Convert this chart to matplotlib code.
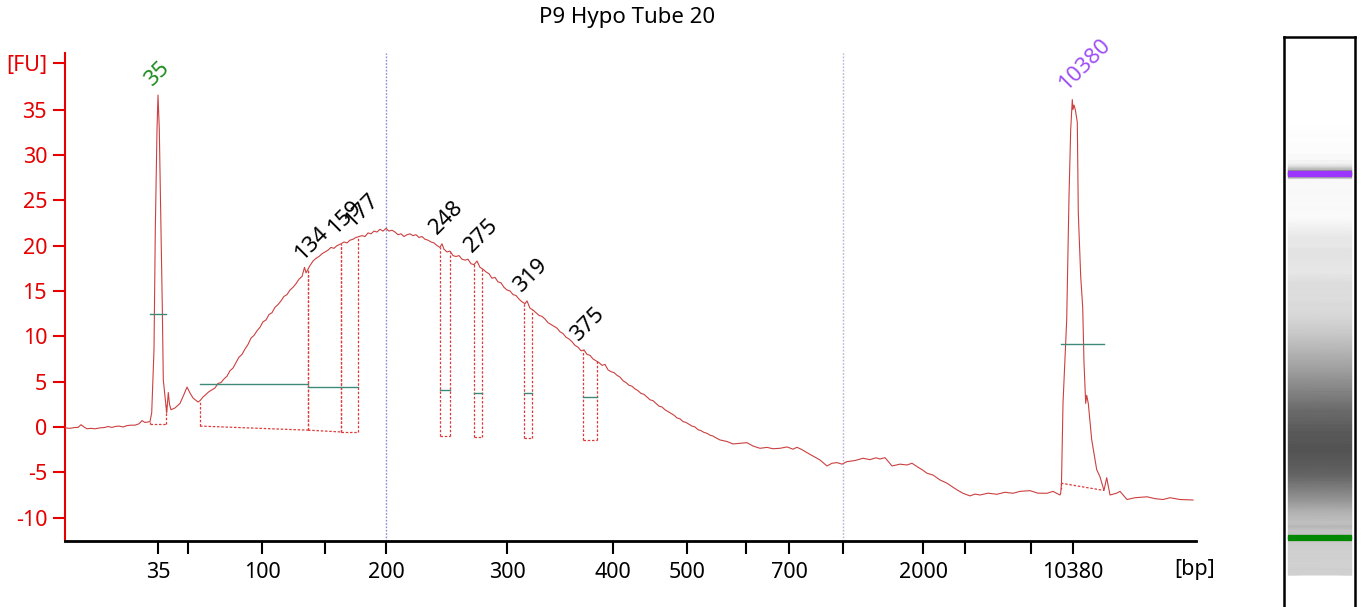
import numpy as np
import matplotlib
matplotlib.use("Agg")
import matplotlib.pyplot as plt

plt.rcParams['font.family'] = ['Noto Sans', 'DejaVu Sans']

title = "P9 Hypo Tube 20"

# electropherogram: migration time [s] vs fluorescence [FU]
trace_t = [40.0, 40.5, 41.0, 41.3, 41.6, 41.9, 42.2, 42.6, 43.0, 43.5, 44.0, 44.3, 44.7, 45.0,
           45.4, 45.8, 46.2, 46.6, 47.0, 47.4, 47.7, 48.0, 48.3, 48.5,
           48.67, 48.9, 49.03, 49.2, 49.3, 49.43, 49.6, 49.73, 49.83, 50.07, 50.17, 50.33, 50.45,
           50.6, 51.0, 51.5, 51.9, 52.2, 52.5, 52.8, 53.3, 53.5,
           53.8, 54.1, 54.4, 54.7, 55.0, 55.3, 55.6, 55.9, 56.2, 56.5, 56.8, 57.1, 57.4, 57.7,
           58.0, 58.3, 58.6, 58.9, 59.2, 59.5, 59.8, 60.1, 60.4, 60.7, 61.0, 61.3, 61.6, 61.9,
           62.2, 62.5, 62.8, 63.1, 63.4, 63.7, 63.95, 64.1, 64.3,
           64.5, 64.8, 65.1, 65.4, 65.7, 66.0, 66.3, 66.6, 66.9, 67.2, 67.6, 67.9, 68.2, 68.5,
           68.8, 69.1, 69.4, 69.7, 70.0, 70.3, 70.6, 70.9, 71.2, 71.5, 71.8, 72.1, 72.4, 72.7,
           73.0, 73.3, 73.6, 73.9, 74.2, 74.5, 74.8, 75.1, 75.4, 75.7, 76.0, 76.3, 76.6, 76.9,
           77.2, 77.5, 77.7, 77.9, 78.2, 78.5, 78.8, 79.1, 79.4, 79.7, 80.0, 80.3, 80.6, 80.9,
           81.2, 81.5, 81.8, 82.1, 82.4, 82.7, 83.0, 83.3, 83.6, 83.9, 84.2, 84.5, 84.8, 85.1,
           85.4, 85.7, 86.0, 86.2, 86.5, 86.8, 87.1, 87.4, 87.7, 88.0, 88.3, 88.6, 88.9, 89.2,
           89.5, 89.8, 90.1, 90.4, 90.7, 91.0, 91.3, 91.6, 91.9, 92.2, 92.5, 92.8, 93.1, 93.4,
           93.7, 94.0, 94.3, 94.6, 94.9, 95.2, 95.5, 95.8, 96.1, 96.4, 96.7, 97.0, 97.3, 97.6,
           97.9, 98.2, 98.5, 98.8, 99.1, 99.4, 99.7, 100.0, 100.3, 100.6, 100.9, 101.2, 101.5,
           101.8, 102.1, 102.4, 102.7, 103.0, 103.3, 103.6, 103.9, 104.2, 104.5, 104.8, 105.1,
           105.5, 106.2, 106.8, 107.5, 108.2, 108.8, 109.5, 110.2, 110.8, 111.5, 112.2, 112.8,
           113.2, 113.7, 114.2, 114.8, 115.5, 116.2, 116.7, 117.2, 117.7, 118.2, 119.0, 119.8,
           120.5, 121.1, 121.5, 122.0, 122.7, 123.5, 124.2, 124.7, 125.2, 125.7, 126.2, 126.8,
           127.5, 128.2, 128.8, 129.3, 129.8, 130.5, 131.0, 131.5, 132.3, 133.2, 134.0, 134.8,
           135.5, 136.5, 137.3, 138.2, 138.8, 139.5,
           139.57, 139.65, 139.8, 140.17, 140.4, 140.57, 140.73, 140.8, 140.9, 141.03, 141.23,
           141.33, 141.57, 141.77, 141.9, 142.07, 142.17, 142.33, 142.67, 143.17, 143.5, 143.9,
           144.17, 144.5, 145.17, 145.5, 146.2, 147.0, 148.2, 149.0, 149.8, 150.5, 151.5, 152.8]
trace_fu = [-0.1, -0.15, -0.05, -0.05, 0.25, 0.0, -0.2, -0.15, -0.2, -0.1, -0.05, 0.05, -0.05, 0.05,
            0.1, 0.0, 0.15, 0.2, 0.2, 0.35, 0.7, 0.5, 0.55, 0.6,
            1.55, 8.5, 21.7, 32.8, 36.6, 32.8, 21.7, 13.2, 5.2, 2.65, 1.55, 3.8, 2.5,
            1.9, 2.1, 2.6, 3.6, 4.4, 3.75, 3.2, 2.75, 2.9,
            3.3, 3.6, 3.9, 4.1, 4.3, 4.8, 4.9, 5.3, 5.6, 6.2, 6.5, 7.1, 7.7, 8.0,
            8.6, 9.1, 9.8, 10.1, 10.6, 11.0, 11.6, 11.8, 12.4, 12.6, 13.2, 13.5, 13.9, 14.4,
            14.6, 15.1, 15.4, 15.8, 16.3, 16.6, 17.6, 17.0, 17.4,
            17.8, 18.3, 18.6, 18.8, 19.1, 19.3, 19.5, 19.8, 19.7, 20.0, 20.2, 20.4, 20.3, 20.6,
            20.7, 20.9, 21.0, 21.1, 21.0, 21.4, 21.3, 21.6, 21.5, 21.8, 21.6, 21.9, 21.6, 21.7,
            21.5, 21.2, 21.3, 21.0, 21.2, 21.3, 21.1, 21.2, 20.9, 21.0, 20.7, 20.6, 20.4, 20.3,
            20.0, 19.8, 20.2, 19.6, 19.3, 19.4, 18.9, 18.8, 18.9, 18.5, 18.4, 18.5, 18.0, 17.9,
            18.3, 17.6, 17.4, 17.1, 16.9, 16.4, 16.5, 16.0, 15.9, 15.4, 15.1, 15.0, 14.6, 14.5,
            14.1, 13.8, 13.6, 13.9, 13.1, 12.9, 12.6, 12.3, 12.2, 11.9, 11.5, 11.3, 11.1, 10.9,
            10.5, 10.3, 9.9, 9.7, 9.4, 9.0, 8.8, 8.4, 8.5, 8.0, 7.9, 7.5, 7.3, 7.1,
            6.8, 6.9, 6.3, 6.1, 6.0, 5.7, 5.5, 5.1, 4.9, 4.6, 4.5, 4.2, 4.0, 3.7,
            3.6, 3.3, 3.0, 2.9, 2.6, 2.3, 2.2, 1.9, 1.7, 1.5, 1.3, 1.0, 0.9,
            0.6, 0.5, 0.3, 0.1, 0.0, -0.3, -0.4, -0.6, -0.7, -0.9, -1.0, -1.2,
            -1.43, -1.6, -1.87, -1.8, -1.73, -2.1, -2.35, -2.25, -2.4, -2.35, -2.2, -2.45,
            -2.24, -2.5, -2.83, -3.2, -3.64, -4.3, -4.0, -3.93, -4.1, -3.82, -3.7, -3.45,
            -3.6, -3.4, -3.53, -3.38, -4.3, -4.1, -4.19, -4.0, -4.37, -4.7, -5.1, -5.3,
            -5.84, -6.2, -6.65, -7.0, -7.31, -7.6, -7.4, -7.5, -7.3, -7.42, -7.2, -7.31,
            -7.1, -7.02, -7.3, -7.31, -7.1, -7.5,
            -7.3, -6.2, 2.6, 11.8, 25.4, 32.8, 36.1, 35.0, 35.5, 35.0, 33.6,
            23.6, 16.6, 13.2, 7.1, 2.6, 3.5, 2.6, -1.4, -4.7, -5.5, -7.0,
            -5.6, -7.5, -7.3, -7.1, -8.0, -7.8, -7.7, -7.9, -8.0, -7.8, -8.0, -8.05]

# size ladder shown on the time axis
tick_t = [49.3, 52.3, 59.7, 66.0, 72.1, 84.2, 94.8, 102.2, 108.1, 112.4, 117.8, 125.8, 130.0, 136.6, 140.8]
tick_bp = ['35', '', '100', '', '200', '300', '400', '500', '', '700', '', '2000', '', '', '10380']
fu_ticks = [-10, -5, 0, 5, 10, 15, 20, 25, 30, 35]
fu_unit_at = 40.13
ref_t = [72.1, 117.8]

# called peaks / regions
peak_bp = ['35', '134', '159', '177', '248', '275', '319', '375', '10380']
peak_t = [49.3, 64.3, 67.6, 69.3, 77.7, 81.2, 86.2, 91.9, 140.7]
peak_fu = [36.6, 17.4, 20.2, 21.0, 20.2, 18.3, 13.9, 8.5, 36.1]
peak_start = [48.5, 53.5, 64.3, 67.6, 77.53, 80.93, 85.93, 91.77, 139.6]
peak_end = [50.07, 64.3, 67.6, 69.3, 78.53, 81.73, 86.73, 93.17, 143.9]
base_start = [0.35, 0.1, -0.35, -0.55, -1.0, -1.05, -1.25, -1.45, -6.2]
base_end = [0.35, -0.35, -0.55, -0.55, -1.0, -1.05, -1.25, -1.45, -7.0]
half_fu = [12.45, 4.75, 4.45, 4.45, 4.05, 3.8, 3.8, 3.35, 9.15]
marker_color = {'35': '#1e8c1e', '10380': '#a050f5'}
band_color = {'35': '#008800', '10380': '#9b35ff'}

fig = plt.figure(figsize=(13.61, 6.07), dpi=100)
ax = fig.add_axes([64.5 / 1361, 1 - 540.7 / 607, (1196 - 64.5) / 1361, (540.7 - 53) / 607])

red = '#e60000'
ax.plot(trace_t, trace_fu, color='#cc4040', lw=0.8, zorder=3)

for x, c in zip(ref_t, ['#8a8ad8', '#b4b4d6']):
    ax.axvline(x, color=c, lw=1.0, ls=(0, (1.2, 1.2)), zorder=1)

dot = (0, (2.0, 1.4))
reg_red = '#e03a3a'
for i, lab in enumerate(peak_bp):
    s, e = peak_start[i], peak_end[i]
    ax.plot([s, e], [base_start[i], base_end[i]], color=reg_red, lw=0.9, ls=dot, zorder=2)
    top_s, top_e = np.interp([s, e], trace_t, trace_fu)
    ax.plot([s, s], [base_start[i], top_s], color=reg_red, lw=0.9, ls=dot, zorder=2)
    ax.plot([e, e], [base_end[i], top_e], color=reg_red, lw=0.9, ls=dot, zorder=2)
    ax.plot([s, e], [half_fu[i], half_fu[i]], color='#3e8a78', lw=1.0, zorder=4)
    ax.annotate(lab, (peak_t[i], peak_fu[i]), xytext=(-4, 6), textcoords='offset points',
                rotation=45, rotation_mode='anchor', ha='left', va='baseline',
                fontsize=16, color=marker_color.get(lab, 'black'))

ax.set_xlim(39.95, 153.1)
ax.set_ylim(-12.54, 41.24)
ax.set_xticks(tick_t)
ax.set_xticklabels(tick_bp)
ax.set_yticks(fu_ticks + [fu_unit_at])
ax.set_yticklabels([str(v) for v in fu_ticks] + ['[FU]'])

for side in ['top', 'right']:
    ax.spines[side].set_visible(False)
ax.spines['left'].set_color(red)
ax.spines['left'].set_linewidth(1.5)
ax.spines['bottom'].set_color('black')
ax.spines['bottom'].set_linewidth(2.0)
ax.tick_params(axis='x', direction='out', length=9, width=1.5, pad=6, labelsize=15.5, colors='black')
ax.tick_params(axis='y', direction='out', length=9, width=1.5, pad=3.5, labelsize=15.5,
               colors=red, labelcolor=red)

fig.text(626.7 / 1361, 1 - 18 / 607, title, ha='center', va='center', fontsize=16)
fig.text(1195 / 1361, 1 - 570 / 607, '[bp]', ha='center', va='center', fontsize=15.5)

# gel-like lane built from the same trace
gel_white, gel_gain, gel_floor = 0.98, 0.0223, -7.5
gax = fig.add_axes([1284 / 1361, -5 / 607, 71 / 1361, 575 / 607])
tt = np.array(trace_t)
gray = np.clip(gel_white - gel_gain * (np.array(trace_fu) - gel_floor), 0, 1)
xx, yy = np.meshgrid([4.3, 67.7], tt)
cc = np.column_stack([gray, gray])
gax.pcolormesh(xx, yy, cc, shading='gouraud', cmap='gray', vmin=0, vmax=1)
for lab in ['35', '10380']:
    t_band = peak_t[peak_bp.index(lab)]
    if lab == '10380':
        t_band = tick_t[-1]
    gax.hlines(t_band, 4.3, 67.7, color=band_color[lab], lw=4.5)
gax.set_xlim(0, 71)
gax.set_ylim(30.7, 175.25)
gax.set_xticks([])
gax.set_yticks([])
for side in ['top', 'left', 'right']:
    gax.spines[side].set_linewidth(1.8)
gax.spines['bottom'].set_visible(False)

fig.savefig('out.png', dpi=100)
